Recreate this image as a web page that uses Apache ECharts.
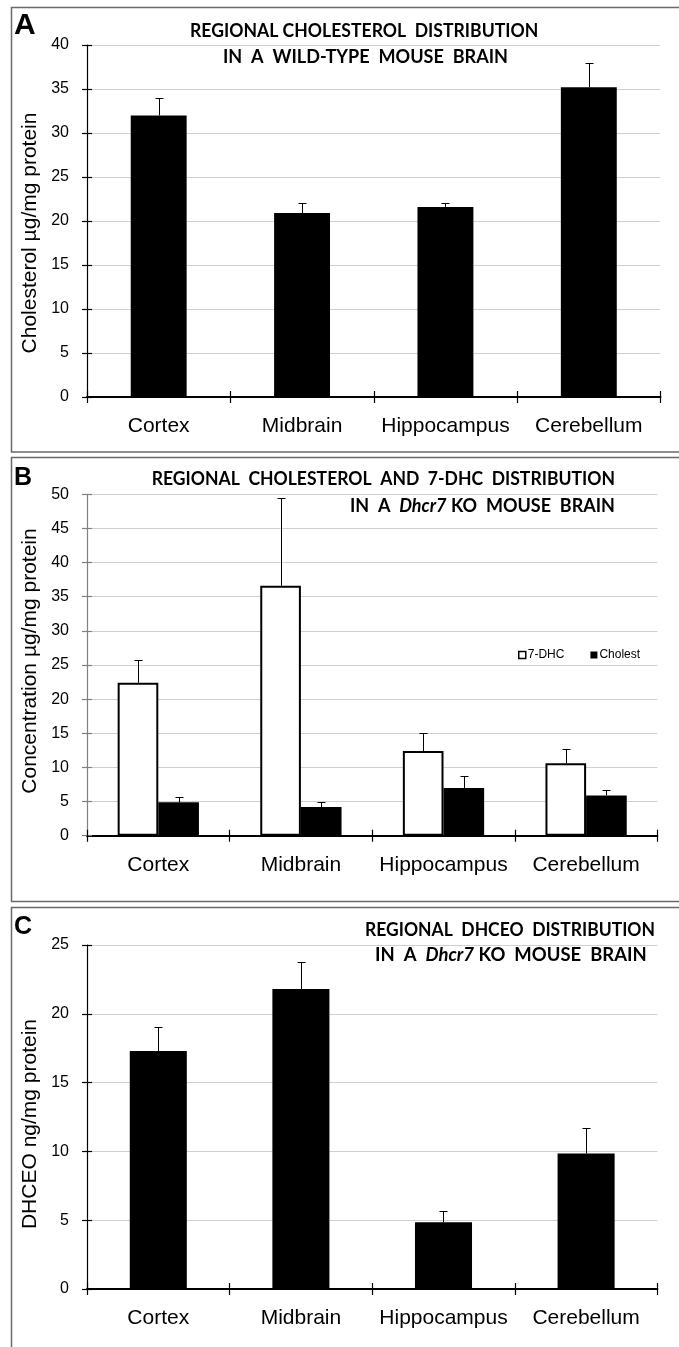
<!DOCTYPE html>
<html><head><meta charset="utf-8">
<script src="https://cdn.jsdelivr.net/npm/echarts@6/dist/echarts.min.js"></script>
<style>html,body{margin:0;padding:0;background:#fff}#c{width:679px;height:1347px}</style>
</head><body><div id="c"></div>
<script>
// ---- data ----
const categories = ['Cortex', 'Midbrain', 'Hippocampus', 'Cerebellum'];
const wtCholesterol = [32.0, 20.9, 21.6, 35.2];
const wtCholesterolErr = [2.0, 1.2, 0.5, 2.7];
const koDHC7 = [22.4, 36.6, 12.4, 10.6];
const koDHC7Err = [3.3, 12.9, 2.6, 2.1];
const koCholest = [4.9, 4.2, 7.0, 5.9];
const koCholestErr = [0.7, 0.7, 1.7, 0.8];
const koDHCEO = [17.3, 21.8, 4.85, 9.85];
const koDHCEOErr = [1.75, 1.95, 0.8, 1.85];
const yScaleA = [0, 40, 5];
const yScaleB = [0, 50, 5];
const yScaleC = [0, 25, 5];
const yNames = ['Cholesterol µg/mg protein', 'Concentration µg/mg protein', 'DHCEO ng/mg protein'];
const legendNames = ['7-DHC', 'Cholest'];

// ---- layout / style ----
const FONT = '"Liberation Sans", Arial, sans-serif';
const grids = [
  {left: 87, top: 45, width: 573.5, height: 352},
  {left: 87, top: 494.3, width: 570.4, height: 341.4},
  {left: 87, top: 945, width: 570.4, height: 344}
];
const yScales = [yScaleA, yScaleB, yScaleC];
const yLineColors = ['#000', '#808080', '#000'];
const yNamePads = [[0, 24, 0, 0], [0, 0, 0, 8], [0, 14, 0, 0]];

const xAxes = [], yAxes = [];
grids.forEach((g, i) => {
  xAxes.push({
    type: 'category', gridIndex: i, data: categories, position: 'bottom',
    axisLine: {show: true, lineStyle: {color: '#000', width: 2}},
    axisTick: {show: true, length: 6, lineStyle: {color: '#000', width: 1.2}},
    axisLabel: {fontFamily: FONT, fontSize: 21, color: '#000', margin: 19, interval: 0},
    splitLine: {show: false}
  });
  xAxes.push({
    type: 'category', gridIndex: i, data: categories, position: 'bottom', offset: 0,
    axisLine: {show: false},
    axisTick: {show: true, inside: true, length: 6, lineStyle: {color: '#000', width: 1.2}},
    axisLabel: {show: false}, splitLine: {show: false}
  });
  const s = yScales[i];
  yAxes.push({
    type: 'value', gridIndex: i, min: s[0], max: s[1], interval: s[2], position: 'left',
    axisLine: {show: true, lineStyle: {color: yLineColors[i], width: 1.2}},
    axisTick: {show: true, length: 5, lineStyle: {color: yLineColors[i], width: 1.2}},
    axisLabel: {fontFamily: FONT, fontSize: 16, color: '#000', margin: 18},
    splitLine: {show: true, lineStyle: {color: '#d0d0d0', width: 1}},
    name: yNames[i], nameLocation: 'middle', nameGap: 46,
    nameTextStyle: {fontFamily: FONT, fontSize: 21, color: '#000', padding: yNamePads[i]}
  });
  yAxes.push({
    type: 'value', gridIndex: i, min: s[0], max: s[1], interval: s[2], position: 'left', offset: 0,
    axisLine: {show: false},
    axisTick: {show: true, inside: true, length: 5, lineStyle: {color: yLineColors[i], width: 1.2}},
    axisLabel: {show: false}, splitLine: {show: false}
  });
});

function errRender(offsetFrac) {
  return function (params, api) {
    const ci = api.value(0), v = api.value(1), e = api.value(2);
    const base = api.coord([ci, v]);
    const top = api.coord([ci, v + e]);
    const bw = api.size([1, 0])[0];
    const x = Math.round(base[0] + offsetFrac * bw) + 0.5;
    const yt = Math.round(top[1]) + 0.5;
    const cap = 4;
    return {type: 'group', children: [
      {type: 'line', shape: {x1: x, y1: base[1], x2: x, y2: yt}, style: {stroke: '#000', lineWidth: 1}},
      {type: 'line', shape: {x1: x - cap, y1: yt, x2: x + cap, y2: yt}, style: {stroke: '#000', lineWidth: 1}}
    ]};
  };
}
function errData(vals, errs) { return vals.map((v, i) => [i, v, errs[i]]); }

const series = [
  {type: 'bar', name: 'Cholesterol', xAxisIndex: 0, yAxisIndex: 0, data: wtCholesterol, barWidth: '39%', itemStyle: {color: '#000'}},
  {type: 'custom', xAxisIndex: 0, yAxisIndex: 0, renderItem: errRender(0), data: errData(wtCholesterol, wtCholesterolErr), encode: {x: 0, y: 1}, z: 3},
  {type: 'bar', name: legendNames[0], xAxisIndex: 2, yAxisIndex: 2, data: koDHC7, barWidth: '28.5%', barGap: '0%', itemStyle: {color: '#fff', borderColor: '#000', borderWidth: 2}},
  {type: 'bar', name: legendNames[1], xAxisIndex: 2, yAxisIndex: 2, data: koCholest, barWidth: '28.5%', barGap: '0%', itemStyle: {color: '#000'}},
  {type: 'custom', xAxisIndex: 2, yAxisIndex: 2, renderItem: errRender(-0.1425), data: errData(koDHC7, koDHC7Err), encode: {x: 0, y: 1}, z: 3},
  {type: 'custom', xAxisIndex: 2, yAxisIndex: 2, renderItem: errRender(0.1425), data: errData(koCholest, koCholestErr), encode: {x: 0, y: 1}, z: 3},
  {type: 'bar', name: 'DHCEO', xAxisIndex: 4, yAxisIndex: 4, data: koDHCEO, barWidth: '40%', itemStyle: {color: '#000'}},
  {type: 'custom', xAxisIndex: 4, yAxisIndex: 4, renderItem: errRender(0), data: errData(koDHCEO, koDHCEOErr), encode: {x: 0, y: 1}, z: 3}
];

// ---- titles (measured to fit) ----
const mctx = document.createElement('canvas').getContext('2d');
const TFS = 18, TFAM = 'Lato, "Open Sans", sans-serif';
function tw(t, italic) { mctx.font = (italic ? 'italic ' : '') + 'bold ' + TFS + 'px ' + TFAM; return mctx.measureText(t).width; }
const titles = [
  {parts: [['REGIONAL CHOLESTEROL  DISTRIBUTION', 0]], x0: 190, x1: 538.3, y: 30.7},
  {parts: [['IN  A  WILD-TYPE  MOUSE  BRAIN', 0]], x0: 223, x1: 508, y: 57.5},
  {parts: [['REGIONAL  CHOLESTEROL  AND  7-DHC  DISTRIBUTION', 0]], x0: 151.7, x1: 615, y: 478.7},
  {parts: [['IN  A  ', 0], ['Dhcr7', 1], [' KO  MOUSE  BRAIN', 0]], x0: 350, x1: 615, y: 506.2},
  {parts: [['REGIONAL  DHCEO  DISTRIBUTION', 0]], x0: 365, x1: 655, y: 929.8},
  {parts: [['IN  A  ', 0], ['Dhcr7', 1], [' KO  MOUSE  BRAIN', 0]], x0: 375, x1: 646.7, y: 955.3}
];
const richStyles = {
  n: {fontFamily: TFAM, fontWeight: 'bold', fontSize: TFS, fill: '#000'},
  i: {fontFamily: TFAM, fontWeight: 'bold', fontStyle: 'italic', fontSize: TFS, fill: '#000'}
};
const graphics = [];
[[11.5, 7.5, 452], [11.5, 457.5, 901.5], [11.5, 907.5, 1370]].forEach(r => {
  graphics.push({type: 'rect', shape: {x: r[0], y: r[1], width: 700, height: r[2] - r[1]}, style: {fill: 'none', stroke: '#6a6a6a', lineWidth: 1.5}, silent: true});
});
[['A', 30, 26], ['B', 25, 478.3], ['C', 25, 927.3]].forEach(l => {
  graphics.push({type: 'text', x: 14, y: l[2], style: {text: l[0], fontFamily: FONT, fontWeight: 'bold', fontSize: l[1], fill: '#000', align: 'left', verticalAlign: 'middle'}});
});
titles.forEach(t => {
  const w = t.parts.reduce((a, p) => a + tw(p[0], p[1]), 0);
  const text = t.parts.map(p => '{' + (p[1] ? 'i' : 'n') + '|' + p[0] + '}').join('');
  graphics.push({type: 'text', x: t.x0, y: t.y, scaleX: (t.x1 - t.x0) / w,
    style: {text: text, rich: richStyles, fontFamily: TFAM, fontWeight: 'bold', fontSize: TFS, fill: '#000', align: 'left', verticalAlign: 'middle'}});
});

const chart = echarts.init(document.getElementById('c'), null, {renderer: 'canvas'});
chart.setOption({
  animation: false,
  backgroundColor: '#fff',
  grid: grids.map(g => Object.assign({containLabel: false, outerBoundsMode: 'none'}, g)),
  xAxis: xAxes,
  yAxis: yAxes,
  legend: {
    left: 513, top: 644, orient: 'horizontal', icon: 'rect', itemWidth: 7, itemHeight: 7, itemGap: 26,
    data: [
      {name: legendNames[0], itemStyle: {color: '#fff', borderColor: '#000', borderWidth: 1.5}},
      {name: legendNames[1], itemStyle: {color: '#000', borderWidth: 0}}
    ],
    textStyle: {fontFamily: FONT, fontSize: 12, color: '#000', padding: [0, 0, 0, -3]}
  },
  tooltip: {show: false},
  series: series,
  graphic: {elements: graphics}
});
</script></body></html>
